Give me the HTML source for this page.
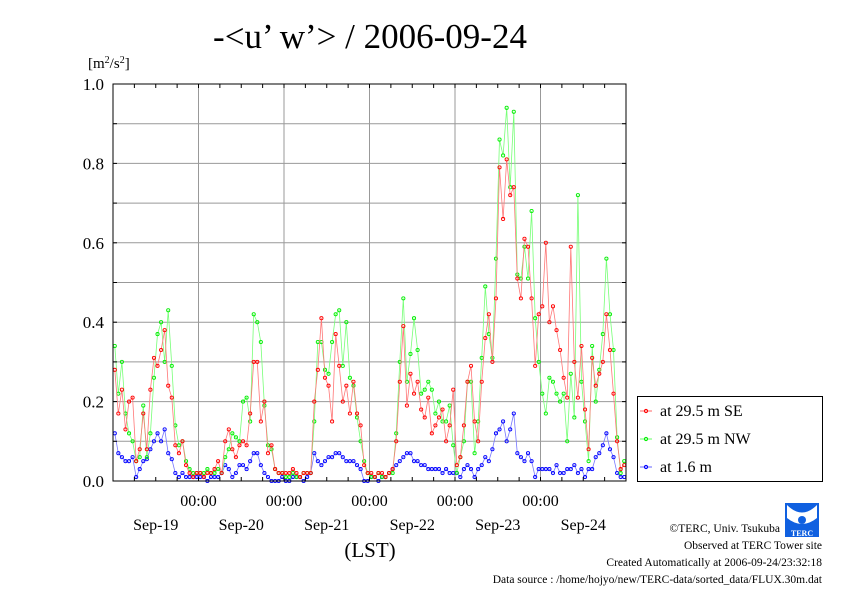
<!DOCTYPE html>
<html><head><meta charset="utf-8"><style>
body{margin:0;background:#fff;}
svg text{font-family:"Liberation Serif",serif;}
</style></head><body>
<svg width="842" height="595" viewBox="0 0 842 595" xmlns="http://www.w3.org/2000/svg">
<rect width="842" height="595" fill="#fff"/>
<text x="370" y="48" font-size="35" text-anchor="middle">-&lt;u’ w’&gt; / 2006-09-24</text>
<text x="88" y="68" font-size="15">[m<tspan font-size="10" dy="-5">2</tspan><tspan dy="5">/s</tspan><tspan font-size="10" dy="-5">2</tspan><tspan dy="5">]</tspan></text>
<g id="grid"></g>
<g id="series"></g>
<rect x="113" y="84" width="513" height="397" fill="none" stroke="#000" stroke-width="1"/>
<g id="axes"></g>
<text x="370" y="557" font-size="21" text-anchor="middle">(LST)</text>
<g>
<rect x="637.5" y="396.5" width="185" height="85" fill="#fff" stroke="#000"/>
<g><line x1="640" y1="411" x2="652" y2="411" stroke="#f66"/><circle cx="646" cy="411" r="1.6" fill="none" stroke="#f00"/><text x="660" y="416" font-size="16">at 29.5 m SE</text></g>
<g><line x1="640" y1="439" x2="652" y2="439" stroke="#6f6"/><circle cx="646" cy="439" r="1.6" fill="none" stroke="#0e0"/><text x="660" y="444" font-size="16">at 29.5 m NW</text></g>
<g><line x1="640" y1="467" x2="652" y2="467" stroke="#66f"/><circle cx="646" cy="467" r="1.6" fill="none" stroke="#00f"/><text x="660" y="472" font-size="16">at 1.6 m</text></g>
</g>
<g>
<rect x="785" y="503" width="34" height="34" fill="#1060e0"/>
<path d="M787 505 Q802 520 817 505 L817 518 Q802 530 787 518 Z" fill="#fff"/>
<circle cx="802" cy="520" r="4" fill="#1060e0"/>
<text x="802" y="536" font-size="8" fill="#fff" text-anchor="middle" font-weight="bold">TERC</text>
</g>
<g font-size="11.5" text-anchor="end">
<text x="780" y="532">©TERC, Univ. Tsukuba</text>
<text x="822" y="549">Observed at TERC Tower site</text>
<text x="822" y="566">Created Automatically at 2006-09-24/23:32:18</text>
<text x="822" y="583">Data source : /home/hojyo/new/TERC-data/sorted_data/FLUX.30m.dat</text>
</g>
</svg>
<script>
const dayLabels=["Sep-19","Sep-20","Sep-21","Sep-22","Sep-23","Sep-24"];
const yTicks=[0,0.2,0.4,0.6,0.8,1.0];
const yTickLabels=["0.0","0.2","0.4","0.6","0.8","1.0"];
const seSeries=[0.28,0.17,0.23,0.13,0.2,0.21,0.05,0.08,0.17,0.08,0.23,0.31,0.29,0.33,0.38,0.24,0.21,0.09,0.07,0.1,0.04,0.02,0.01,0.02,
0.02,0.01,0.02,0.02,0.03,0.05,0.02,0.1,0.13,0.08,0.06,0.09,0.1,0.09,0.17,0.3,0.3,0.15,0.2,0.07,0.09,0.03,0.02,0.02,
0.02,0.02,0.03,0.02,0.01,0.02,0.02,0.02,0.2,0.28,0.41,0.26,0.24,0.15,0.37,0.29,0.2,0.24,0.17,0.25,0.17,0.14,0.04,0.02,
0.02,0.01,0.02,0.02,0.01,0.02,0.03,0.1,0.25,0.39,0.19,0.27,0.22,0.25,0.18,0.16,0.21,0.12,0.14,0.16,0.18,0.1,0.14,0.23,
0.04,0.06,0.14,0.25,0.29,0.15,0.1,0.25,0.36,0.42,0.3,0.46,0.79,0.66,0.81,0.72,0.74,0.51,0.46,0.61,0.59,0.46,0.29,0.42,
0.44,0.6,0.4,0.44,0.38,0.33,0.26,0.21,0.59,0.3,0.21,0.34,0.18,0.08,0.31,0.24,0.27,0.3,0.42,0.33,0.22,0.1,0.03,0.04];
const nwSeries=[0.34,0.22,0.3,0.17,0.12,0.1,0.05,0.06,0.19,0.06,0.12,0.26,0.37,0.4,0.3,0.43,0.29,0.14,0.09,0.1,0.05,0.03,0.02,0.02,
0.02,0.02,0.03,0.02,0.02,0.03,0.02,0.06,0.08,0.12,0.11,0.1,0.2,0.21,0.15,0.42,0.4,0.35,0.19,0.09,0.08,0.03,0.02,0.02,
0.01,0.01,0.02,0.01,0.01,0.02,0.02,0.02,0.15,0.35,0.35,0.28,0.27,0.35,0.42,0.43,0.29,0.4,0.26,0.24,0.16,0.1,0.05,0.02,
0.01,0.01,0.02,0.01,0.01,0.02,0.02,0.12,0.3,0.46,0.25,0.32,0.41,0.33,0.22,0.23,0.25,0.23,0.17,0.2,0.15,0.15,0.19,0.09,
0.02,0.06,0.1,0.25,0.25,0.07,0.15,0.31,0.49,0.37,0.31,0.56,0.86,0.82,0.94,0.74,0.93,0.52,0.51,0.59,0.51,0.68,0.41,0.3,
0.22,0.17,0.26,0.25,0.22,0.2,0.22,0.1,0.27,0.16,0.72,0.25,0.15,0.05,0.34,0.2,0.28,0.37,0.56,0.42,0.33,0.11,0.02,0.05];
const lowSeries=[0.12,0.07,0.06,0.05,0.05,0.06,0.01,0.03,0.05,0.055,0.08,0.1,0.12,0.1,0.13,0.07,0.055,0.02,0.01,0.02,0.01,0.01,0.01,0.01,
0.01,0.01,0.0,0.01,0.01,0.01,0.02,0.04,0.03,0.01,0.02,0.04,0.04,0.03,0.05,0.07,0.07,0.04,0.02,0.01,0.0,0.0,0.0,0.01,
0.0,0.0,0.01,0.01,0.01,0.0,0.01,0.02,0.07,0.05,0.04,0.05,0.06,0.06,0.07,0.07,0.06,0.05,0.05,0.05,0.04,0.03,0.0,0.0,
0.01,0.01,0.0,0.01,0.01,0.02,0.03,0.04,0.05,0.06,0.07,0.07,0.05,0.05,0.04,0.04,0.03,0.03,0.03,0.03,0.02,0.03,0.02,0.02,
0.02,0.01,0.03,0.04,0.03,0.01,0.03,0.04,0.06,0.05,0.08,0.12,0.13,0.15,0.1,0.13,0.17,0.07,0.06,0.05,0.07,0.05,0.01,0.03,
0.03,0.03,0.03,0.02,0.04,0.02,0.02,0.03,0.03,0.04,0.02,0.03,0.01,0.03,0.03,0.06,0.07,0.09,0.12,0.08,0.06,0.02,0.01,0.01];
const NS="http://www.w3.org/2000/svg";
const X0=113,X1=626,Y0=481,Y1=84,HOURS=144;
function xScale(h){return X0+(X1-X0)*h/HOURS;}
function yScale(v){return Y0-(Y0-Y1)*v;}
function mk(tag,attrs,parent){const e=document.createElementNS(NS,tag);for(const k in attrs)e.setAttribute(k,attrs[k]);parent.appendChild(e);return e;}
const grid=document.getElementById('grid'),axes=document.getElementById('axes'),ser=document.getElementById('series');
for(let i=1;i<10;i++){const v=i/10;const y=yScale(v);
 const l=mk('line',{x1:X0,x2:X1,y1:y,y2:y,stroke:'#999','stroke-width':1},grid);
 
 }
for(let d=1;d<dayLabels.length;d++){const x=xScale(d*24);
 const l=mk('line',{x1:x,x2:x,y1:Y1,y2:Y0,stroke:'#999','stroke-width':1},grid);
 
 
 const t=mk('text',{x:x,y:506,'font-size':16,'text-anchor':'middle'},axes);t.textContent='00:00';
 
 }
for(let h=6;h<HOURS;h+=6){const x=xScale(h);
 mk('line',{x1:x,x2:x,y1:Y0,y2:Y0-4,stroke:'#000'},axes);
 mk('line',{x1:x,x2:x,y1:Y1,y2:Y1+4,stroke:'#000'},axes);}
for(let i=1;i<10;i++){const y=yScale(i/10);
 mk('line',{x1:X0,x2:X0+4,y1:y,y2:y,stroke:'#000'},axes);
 mk('line',{x1:X1,x2:X1-4,y1:y,y2:y,stroke:'#000'},axes);}
dayLabels.forEach((d,i)=>{const t=mk('text',{x:xScale(i*24+12),y:530,'font-size':16,'text-anchor':'middle'},axes);t.textContent=d;
 
 });
yTicks.forEach((v,i)=>{const t=mk('text',{x:104,y:yScale(v)+6,'font-size':17,'text-anchor':'end'},axes);t.textContent=yTickLabels[i];
 
 });
function drawSeries(vals,line,mark,name){
 const g=mk('g',{},ser);
 
 
 const pts=vals.map((v,i)=>xScale(i+0.5).toFixed(1)+','+yScale(v).toFixed(1)).join(' ');
 mk('polyline',{points:pts,fill:'none',stroke:line,'stroke-width':0.8},g);
 vals.forEach((v,i)=>{const c=mk('circle',{cx:xScale(i+0.5),cy:yScale(v),r:1.6,fill:'none',stroke:mark,'stroke-width':0.9},g);
  
  });
}
drawSeries(lowSeries,'#77f','#00f','series-1-6m');
drawSeries(nwSeries,'#7f7','#0e0','series-29-5m-nw');
drawSeries(seSeries,'#f77','#f00','series-29-5m-se');
</script>
</body></html>
